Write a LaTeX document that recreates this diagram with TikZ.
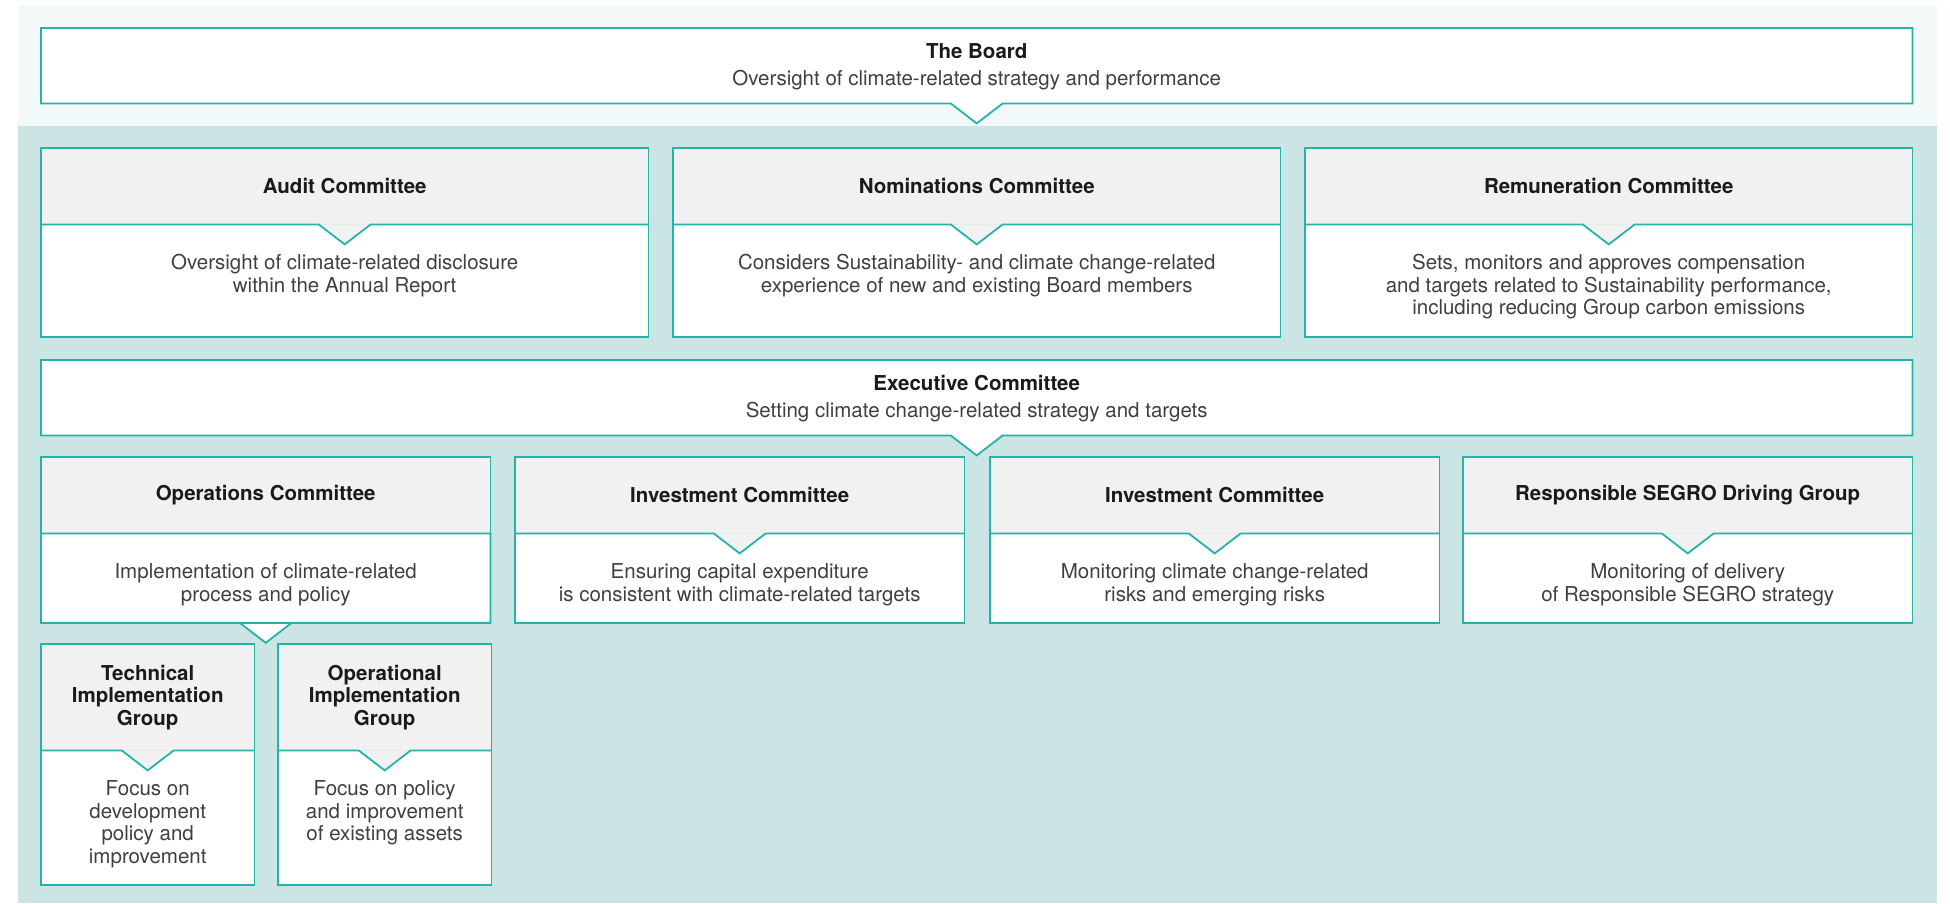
\documentclass[tikz,border=0pt]{standalone}
\usepackage{fontspec}
\setmainfont{TeX Gyre Heros}
\usetikzlibrary{calc,positioning}
\definecolor{segteal}{HTML}{25B2A9}
\definecolor{paleband}{HTML}{F3F8F8}
\definecolor{tealband}{HTML}{CBE5E5}
\definecolor{headgrey}{HTML}{F1F1F1}
\definecolor{ink}{HTML}{1A1A1A}
\definecolor{softink}{HTML}{404040}

\begin{document}
\begin{tikzpicture}[x=1pt,y=-1pt,
	rim/.style={draw=segteal,line width=1.8},
	head/.style={fill=headgrey,inner sep=0,align=center,text=ink,font=\fontsize{20.5}{22.5}\selectfont\bfseries},
	body/.style={fill=white,inner sep=0},
	note/.style={inner sep=0,align=center,text=softink,font=\fontsize{20.5}{22.5}\selectfont},
	title/.style={inner sep=0,text=ink,font=\fontsize{20.5}{22.5}\selectfont\bfseries}]
	\useasboundingbox (0,0) rectangle (1950,903);
	\fill[paleband] (18,5) rectangle (1937,126);
	\fill[tealband] (18,126) rectangle (1937,903);
	% board
	\node[body,minimum width=1871,minimum height=75,anchor=north west] (board) at (41,28) {};
	\filldraw[rim,fill=white] (board.north west) -- (board.north east) -- (board.south east) -- ($(board.south)+(26,0)$) -- ++(-26,20) -- ++(-26,-20) -- (board.south west) -- cycle;
	\node[title,anchor=base] (board-t) at ($(board.north)+(0,30)$) {The Board};
	\node[note,anchor=base] (board-s) at ($(board.north)+(0,57)$) {Oversight of climate-related strategy and performance};
	% executive
	\node[body,minimum width=1871,minimum height=75,anchor=north west] (exec) at (41,360) {};
	\filldraw[rim,fill=white] (exec.north west) -- (exec.north east) -- (exec.south east) -- ($(exec.south)+(26,0)$) -- ++(-26,20) -- ++(-26,-20) -- (exec.south west) -- cycle;
	\node[title,anchor=base] (exec-t) at ($(exec.north)+(0,30)$) {Executive Committee};
	\node[note,anchor=base] (exec-s) at ($(exec.north)+(0,57)$) {Setting climate change-related strategy and targets};
	% operations
	\node[head,minimum width=449,minimum height=76,anchor=north west] (ops-h) at (41,457) {Operations Committee};
	\node[body,minimum width=449,minimum height=89,anchor=north] (ops-b) at (ops-h.south) {};
	\filldraw[rim,fill=white] (ops-b.north west) -- (ops-b.north east) -- (ops-b.south east) -- ($(ops-b.south)+(26,0)$) -- ++(-26,20) -- ++(-26,-20) -- (ops-b.south west) -- cycle;
	\draw[rim] (ops-h.north west) rectangle (ops-b.south east);
	\node[note,anchor=north] (ops-t) at ($(ops-b.north)+(0,30)$) {Implementation of climate-related\\process and policy};
	% committees and groups
	\foreach \n/\x/\y/\w/\hh/\bh/\t/\b in {
		audit/41/148/607/76/112/{Audit Committee}/{Oversight of climate-related disclosure\\within the Annual Report},
		nom/673/148/607/76/112/{Nominations Committee}/{Considers Sustainability- and climate change-related\\experience of new and existing Board members},
		rem/1305/148/607/76/112/{Remuneration Committee}/{Sets, monitors and approves compensation\\and targets related to Sustainability performance,\\including reducing Group carbon emissions},
		inv/515/457/449/76/89/{Investment Committee}/{Ensuring capital expenditure\\is consistent with climate-related targets},
		risk/990/457/449/76/89/{Investment Committee}/{Monitoring climate change-related\\risks and emerging risks},
		rsdg/1463/457/449/76/89/{Responsible SEGRO Driving Group}/{Monitoring of delivery\\of Responsible SEGRO strategy},
		tig/41/644/213/106/134/{Technical\\Implementation\\Group}/{Focus on\\development\\policy and\\improvement},
		oig/278/644/213/106/134/{Operational\\Implementation\\Group}/{Focus on policy\\and improvement\\of existing assets}} {
		\node[head,minimum width=\w,minimum height=\hh,anchor=north west] (\n-h) at (\x,\y) {\t};
		\node[body,minimum width=\w,minimum height=\bh,anchor=north] (\n-b) at (\n-h.south) {};
		\fill[headgrey] ($(\n-h.south)+(-26,0)$) -- ++(26,20) -- ++(26,-20) -- cycle;
		\draw[rim] (\n-h.south west) -- ($(\n-h.south)+(-26,0)$) -- ++(26,20) -- ++(26,-20) -- (\n-h.south east);
		\draw[rim] (\n-h.north west) rectangle (\n-b.south east);
		\node[note,anchor=north] (\n-t) at ($(\n-b.north)+(0,30)$) {\b};
	}
\end{tikzpicture}
\end{document}
